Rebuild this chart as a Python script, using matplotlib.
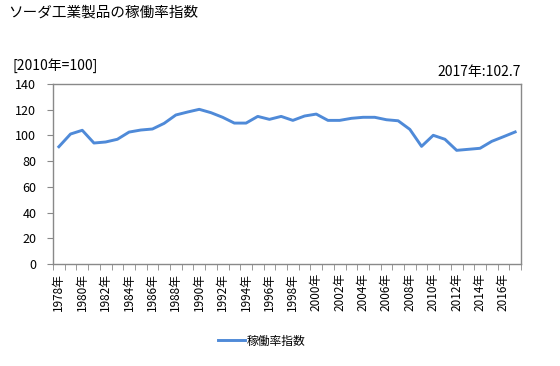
import matplotlib
matplotlib.use("Agg")
import matplotlib.pyplot as plt
from matplotlib.ticker import FixedLocator

plt.rcParams['font.family'] = ['Noto Sans CJK JP', 'DejaVu Sans']

years = list(range(1978, 2018))
values = [91.2, 101.1, 104.0, 94.1, 94.9, 97.0, 102.6, 104.2, 105.0, 109.4,
          115.9, 118.2, 120.3, 117.7, 114.1, 109.6, 109.6, 114.8, 112.5, 114.8,
          111.7, 115.1, 116.6, 111.7, 111.7, 113.3, 114.1, 114.1, 112.2, 111.4,
          104.7, 91.5, 100.1, 97.0, 88.4, 89.2, 90.0, 95.4, 99.0, 102.7]
x_labels = [f"{y}年" for y in years]
series_name = "稼働率指数"
title = "ソーダ工業製品の稼働率指数"
unit_note = "[2010年=100]"
last_note = "2017年:102.7"
y_ticks = [0, 20, 40, 60, 80, 100, 120, 140]

color = '#4F8AD8'
gray = '#898989'

fig = plt.figure(figsize=(5.6, 3.66), dpi=100)
ax = fig.add_axes([53/560, 1-264/366, 468/560, 180/366])

xs = list(range(len(years)))
ax.plot(xs, values, color=color, lw=2.1, solid_joinstyle='round', label=series_name)

ax.set_xlim(-0.5, len(years)-0.5)
ax.set_ylim(0, 140)
ax.set_yticks(y_ticks)
ax.set_yticklabels([str(v) for v in y_ticks], fontsize=9)

major = [i for i in xs if i % 2 == 0]
ax.xaxis.set_major_locator(FixedLocator(major))
ax.set_xticklabels([x_labels[i] for i in major], rotation=90, fontsize=8.5)
ax.xaxis.set_minor_locator(FixedLocator([i - 0.5 for i in range(len(years)+1)]))
ax.tick_params(axis='x', which='major', length=0, pad=6.5)
ax.tick_params(axis='x', which='minor', length=4, color=gray, direction='out')
ax.tick_params(axis='y', which='major', length=4, color=gray, direction='out', pad=8)

for s in ax.spines.values():
    s.set_color(gray)
    s.set_linewidth(1.0)

fig.text(8/560, 1-13/366, title, fontsize=10.5, ha='left', va='center')
fig.text(12/560, 1-66/366, unit_note, fontsize=10, ha='left', va='center')
fig.text(521/560, 1-72/366, last_note, fontsize=10, ha='right', va='center')

fig.legend(loc='center', bbox_to_anchor=(261.5/560, 1-341/366), frameon=False,
           fontsize=8.5, handlelength=2.3, handletextpad=0.1)

fig.savefig('out.png', dpi=100)
